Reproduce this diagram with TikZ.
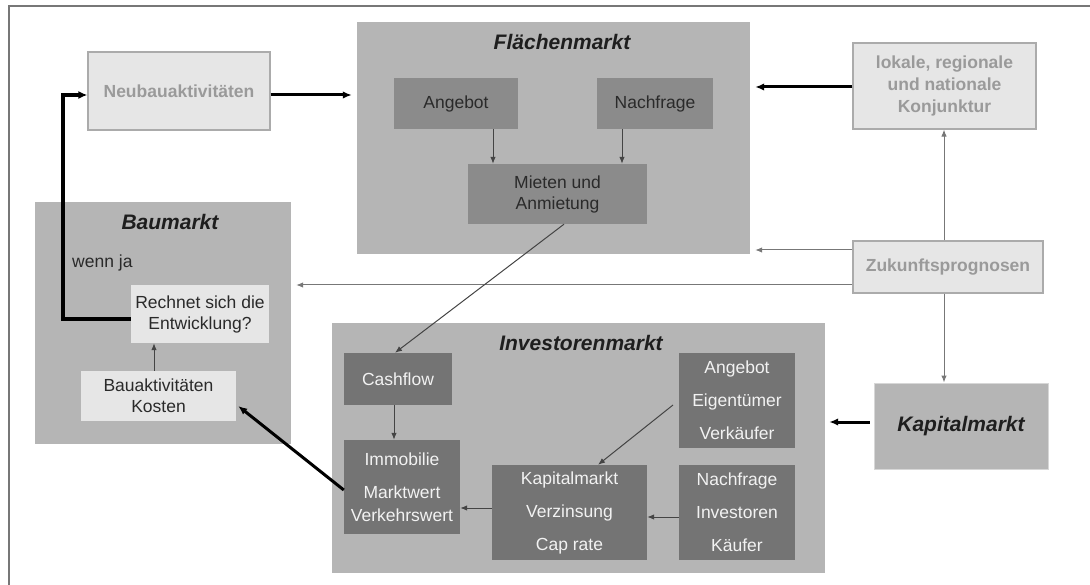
\documentclass[tikz,border=0pt]{standalone}
\usepackage{fontspec}
\setmainfont{Liberation Sans}
\usetikzlibrary{arrows.meta,calc}
\definecolor{bigbox}{HTML}{B5B5B5}
\definecolor{midbox}{HTML}{8B8B8B}
\definecolor{darkbox}{HTML}{747474}
\definecolor{lightbox}{HTML}{E6E6E6}
\definecolor{lightborder}{HTML}{ABABAB}
\definecolor{graytext}{HTML}{9A9A9A}
\definecolor{darktext}{HTML}{2A2A2A}
\definecolor{titletext}{HTML}{1E1E1E}
\definecolor{thinline}{HTML}{444444}
\definecolor{frame}{HTML}{777777}
\begin{document}
\begin{tikzpicture}[x=1pt,y=-1pt,
  every node/.style={font=\fontsize{17.5}{21}\selectfont, inner sep=0pt, align=center},
  bigbox/.style={fill=bigbox, draw=none},
  midbox/.style={fill=midbox, draw=none, text=darktext},
  darkbox/.style={fill=darkbox, draw=none, text=white!95!black},
  lightbox/.style={fill=lightbox, draw=lightborder, line width=1.2pt, text=graytext, font=\fontsize{17.5}{22}\selectfont\bfseries},
  plainlight/.style={fill=lightbox, draw=none, text=darktext},
  titlelabel/.style={text=titletext, font=\fontsize{21}{25}\selectfont\bfseries\itshape},
  thinarrow/.style={draw=thinline, line width=1pt, -{Latex[length=7pt,width=5.5pt]}},
  thickarrow/.style={draw=black, line width=3pt, -{Latex[length=9pt,width=7.5pt]}},
  loopline/.style={draw=black, line width=4.2pt, -{Latex[length=9pt,width=8pt]}},
  wide/.style={font=\fontsize{17.5}{33}\selectfont}
]
\useasboundingbox (0,0) rectangle (1090,585);
% outer frame
\coordinate (fr1) at (1090,6);
\coordinate (fr2) at (9,6);
\coordinate (fr3) at (9,585);
\draw[frame, line width=1.6pt] (fr1) -- (fr2) -- (fr3);

% big boxes
\node[bigbox, minimum width=393pt, minimum height=232pt] (flaeche) at (553.5,138) {};
\node[bigbox, minimum width=256pt, minimum height=242pt] (baumarkt) at (163,323) {};
\node[bigbox, minimum width=493pt, minimum height=250pt] (invest) at (578.5,448) {};
\node[bigbox, draw=lightbox!70!bigbox, line width=1pt, minimum width=174pt, minimum height=86pt, titlelabel] (kapouter) at (961,426) {Kapitalmarkt};

% titles
\node[titlelabel] (tflaeche) at (562,42) {Flächenmarkt};
\node[titlelabel] (tbau) at (170,222) {Baumarkt};
\node[titlelabel] (tinvest) at (581,343) {Investorenmarkt};
\node[text=darktext, anchor=west] (wennja) at (72,263) {wenn ja};

% Flaechenmarkt inner
\node[midbox, minimum width=124pt, minimum height=51pt] (angebot1) at (456,103.5) {Angebot};
\node[midbox, minimum width=116pt, minimum height=51pt] (nachfrage1) at (655,103.5) {Nachfrage};
\node[midbox, minimum width=179pt, minimum height=60pt] (mieten) at (557.5,194) {Mieten und\\Anmietung};

% light boxes
\node[lightbox, minimum width=182pt, minimum height=78pt] (neubau) at (179,91) {Neubauaktivitäten};
\node[lightbox, minimum width=183pt, minimum height=86pt] (konj) at (944.5,86) {lokale, regionale\\und nationale\\Konjunktur};
\node[lightbox, minimum width=190pt, minimum height=52pt] (zukunft) at (948,267) {Zukunftsprognosen};

% Baumarkt inner
\node[plainlight, minimum width=138pt, minimum height=58pt] (rechnet) at (200,314) {Rechnet sich die\\Entwicklung?};
\node[plainlight, minimum width=155pt, minimum height=50pt] (bauakt) at (158.5,396) {Bauaktivitäten\\Kosten};

% Investorenmarkt inner
\node[darkbox, minimum width=108pt, minimum height=52pt] (cashflow) at (398,379) {Cashflow};
\node[darkbox, minimum width=116pt, minimum height=94pt, font=\fontsize{17.5}{23.5}\selectfont] (immob) at (402,487) {Immobilie\\[9.5pt]Marktwert\\Verkehrswert};
\node[darkbox, wide, minimum width=155pt, minimum height=95pt] (kapinner) at (569.5,512.5) {Kapitalmarkt\\Verzinsung\\Cap rate};
\node[darkbox, wide, minimum width=116pt, minimum height=95pt] (angebotE) at (737,400.5) {Angebot\\Eigentümer\\Verkäufer};
\node[darkbox, wide, minimum width=116pt, minimum height=95pt] (nachfrageI) at (737,512.5) {Nachfrage\\Investoren\\Käufer};

% connectors in Flaechenmarkt
\draw[thinarrow] (angebot1.south -| 493,0) -- (mieten.north -| 493,0);
\draw[thinarrow] (nachfrage1.south -| 622,0) -- (mieten.north -| 622,0);

% thick connectors
\draw[thickarrow, shorten >=5pt] (neubau.east |- 0,95) -- (flaeche.west |- 0,95);
\draw[thickarrow, shorten >=5pt] (konj.west |- 0,87) -- (flaeche.east |- 0,87);
\draw[thickarrow, shorten >=4pt, shorten <=4pt] (kapouter.west |- 0,422) -- (invest.east |- 0,422);
\draw[thickarrow] (immob.west |- 0,490) -- ($(bauakt.east)+(2,10)$);

% loop Rechnet -> Neubau
\coordinate (loopcorner) at (63,319);
\draw[loopline] (rechnet.west |- 0,319) -- (loopcorner) |- (neubau.west |- 0,95);

% Zukunft connectors
\draw[thinarrow, draw=frame, shorten >=5pt] (zukunft.west |- 0,250) -- (flaeche.east |- 0,250);
\draw[thinarrow, draw=frame, shorten >=5pt] (zukunft.west |- 0,285) -- (baumarkt.east |- 0,285);
\draw[thinarrow, draw=frame] (zukunft.north -| 944,0) -- (konj.south -| 944,0);
\draw[thinarrow, draw=frame] (zukunft.south -| 944,0) -- (kapouter.north -| 944,0);

% Mieten -> Cashflow
\draw[thinarrow] (mieten.south -| 564,0) -- (cashflow.north -| 395,0);
\draw[thinarrow] (cashflow.south -| 394,0) -- (immob.north -| 394,0);
\coordinate (angstart) at (673,405);
\draw[thinarrow] (angstart) -- (kapinner.north -| 598,0);
\draw[thinarrow] (nachfrageI.west |- 0,517) -- (kapinner.east |- 0,517);
\draw[thinarrow] (kapinner.west |- 0,508) -- (immob.east |- 0,508);
\draw[thinarrow] (bauakt.north -| 154,0) -- (rechnet.south -| 154,0);
\end{tikzpicture}
\end{document}
